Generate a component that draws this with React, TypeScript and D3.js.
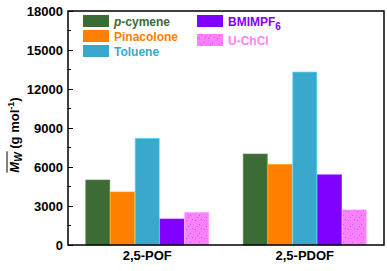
import React, { useEffect, useRef } from 'react';
import * as d3 from 'd3';

const categories = ['2,5-POF', '2,5-PDOF'];
const seriesNames = ['p-cymene', 'Pinacolone', 'Toluene', 'BMIMPF6', 'U-ChCl'];
const seriesColors = ['#3d6b35', '#ff8000', '#3aa8cc', '#8000ff', '#ff80ff'];
const pcymene = [5000, 7000];
const pinacolone = [4080, 6200];
const toluene = [8200, 13300];
const bmimpf6 = [2000, 5400];
const uchcl = [2500, 2700];
const yTicks = [0, 3000, 6000, 9000, 12000, 15000, 18000];

const W = 387;
const H = 271;

const App = () => {
  const svgRef = useRef<SVGSVGElement>(null);

  useEffect(() => {
    const svg = d3.select(svgRef.current);
    svg.selectAll('*').remove();

    const margin = { top: 11, right: 3, bottom: 26, left: 68 };
    const width = W - margin.left - margin.right;
    const height = H - margin.top - margin.bottom;
    const font = 'Liberation Sans, Arial, sans-serif';

    const values = [pcymene, pinacolone, toluene, bmimpf6, uchcl];

    // dotted fill for U-ChCl
    const defs = svg.append('defs');
    const pat = defs.append('pattern')
      .attr('id', 'dots')
      .attr('patternUnits', 'userSpaceOnUse')
      .attr('width', 9)
      .attr('height', 9);
    pat.append('rect').attr('width', 9).attr('height', 9).attr('fill', '#ff80ff');
    [[1, 2], [5, 6], [7, 1], [3, 8]].forEach(([cx, cy]) => {
      pat.append('rect').attr('x', cx).attr('y', cy).attr('width', 1).attr('height', 1).attr('fill', '#9a6cf0');
    });

    const g = svg.append('g').attr('transform', `translate(${margin.left},${margin.top})`);

    const x0 = d3.scaleBand().domain(categories).range([0, width]).paddingInner(0.21).paddingOuter(0.108);
    const x1 = d3.scaleBand().domain(seriesNames).range([0, x0.bandwidth()]).padding(0.03);
    const y = d3.scaleLinear().domain([0, 18000]).range([height, 0]);

    categories.forEach((cat, ci) => {
      seriesNames.forEach((s, si) => {
        const v = values[si][ci];
        g.append('rect')
          .attr('x', (x0(cat) as number) + (x1(s) as number))
          .attr('y', y(v))
          .attr('width', x1.bandwidth())
          .attr('height', height - y(v))
          .attr('fill', si === 4 ? 'url(#dots)' : seriesColors[si])
          .attr('stroke', d3.color(seriesColors[si])!.brighter(0.6).toString())
          .attr('stroke-opacity', 0.6)
          .attr('stroke-width', 1);
      });
    });

    // axes frame
    g.append('rect')
      .attr('width', width)
      .attr('height', height)
      .attr('fill', 'none')
      .attr('stroke', '#000')
      .attr('stroke-width', 1.5);

    const yAxis = d3.axisLeft(y).tickValues(yTicks).tickFormat(d3.format('d')).tickSizeInner(-5).tickSizeOuter(0).tickPadding(5);
    const ya = g.append('g').call(yAxis);
    ya.select('.domain').remove();
    ya.selectAll('text')
      .attr('font-family', font)
      .attr('font-weight', 'bold')
      .attr('font-size', 13)
      .attr('fill', '#000');
    ya.selectAll('line').attr('stroke', '#000').attr('stroke-width', 1);

    // minor ticks
    g.selectAll('.minor')
      .data(d3.range(1500, 18000, 3000))
      .enter()
      .append('line')
      .attr('x1', 0)
      .attr('x2', 3)
      .attr('y1', d => y(d))
      .attr('y2', d => y(d))
      .attr('stroke', '#000');

    const xAxis = d3.axisBottom(x0).tickSize(0).tickPadding(6);
    const xa = g.append('g').attr('transform', `translate(0,${height})`).call(xAxis);
    xa.select('.domain').remove();
    xa.selectAll('text')
      .attr('font-family', font)
      .attr('font-weight', 'bold')
      .attr('font-size', 13)
      .attr('fill', '#000');

    // y title
    const tg = svg.append('g').attr('transform', `translate(19,135) rotate(-90)`);
    const yt = tg.append('text')
      .attr('font-family', font)
      .attr('font-weight', 'bold')
      .attr('font-size', 13)
      .attr('fill', '#000');
    const tM = yt.append('tspan').attr('font-style', 'italic').text('M');
    const tW = yt.append('tspan').attr('font-style', 'italic').attr('font-size', 10).attr('dy', 3).text('W');
    yt.append('tspan').attr('dy', -3).text(' (g mol');
    yt.append('tspan').attr('font-size', 9).attr('dy', -5).text('-1');
    yt.append('tspan').attr('dy', 5).text(')');
    const total = (yt.node() as SVGTextElement).getComputedTextLength();
    yt.attr('x', -total / 2);
    const overLen = (tM.node() as SVGTSpanElement).getComputedTextLength() + (tW.node() as SVGTSpanElement).getComputedTextLength();
    tg.append('line')
      .attr('x1', -total / 2)
      .attr('x2', -total / 2 + overLen + 1)
      .attr('y1', -12)
      .attr('y2', -12)
      .attr('stroke', '#000')
      .attr('stroke-width', 1);

    // legend
    const legendPos = [
      [83, 15], [83, 30], [83, 45], [197, 15], [197, 34],
    ];
    seriesNames.forEach((s, i) => {
      const [lx, ly] = legendPos[i];
      svg.append('rect')
        .attr('x', lx).attr('y', ly)
        .attr('width', 26).attr('height', 12)
        .attr('fill', i === 4 ? 'url(#dots)' : seriesColors[i]);
      const t = svg.append('text')
        .attr('x', lx + 31)
        .attr('y', ly + 10.5)
        .attr('font-family', font)
        .attr('font-weight', 'bold')
        .attr('font-size', 12)
        .attr('fill', seriesColors[i]);
      if (s === 'p-cymene') {
        t.append('tspan').attr('font-style', 'italic').text('p');
        t.append('tspan').text('-cymene');
      } else if (s === 'BMIMPF6') {
        t.append('tspan').text('BMIMPF');
        t.append('tspan').attr('font-size', 10).attr('dy', 4).text('6');
      } else {
        t.text(s);
      }
    });
  }, []);

  return <svg ref={svgRef} width={W} height={H} style={{ position: 'absolute', left: 0, top: 0, background: '#fff' }} />;
};

export default App;
